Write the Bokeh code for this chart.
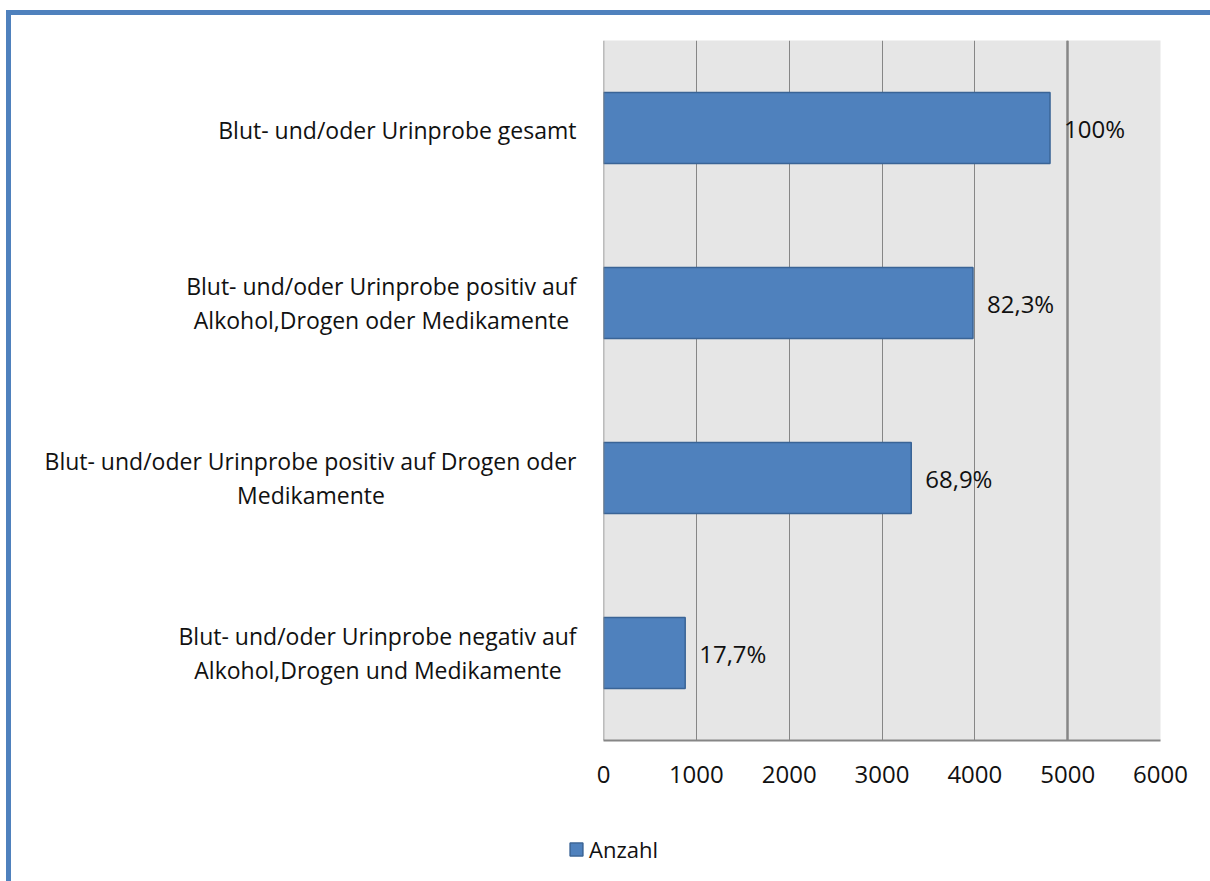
from bokeh.plotting import figure
from bokeh.layouts import column, row
from bokeh.models import (FactorRange, Range1d, ColumnDataSource, Legend, LegendItem,
                          FixedTicker, Grid, Span)
from bokeh.embed import file_html
from bokeh.resources import INLINE
from bokeh.core.properties import value

# ---- data ----
categories = [
    "Blut- und/oder Urinprobe gesamt",
    "Blut- und/oder Urinprobe positiv auf\nAlkohol,Drogen oder Medikamente",
    "Blut- und/oder Urinprobe positiv auf Drogen oder\nMedikamente",
    "Blut- und/oder Urinprobe negativ auf\nAlkohol,Drogen und Medikamente",
]
counts = [4810, 3980, 3315, 880]
percent_labels = ["100%", "82,3%", "68,9%", "17,7%"]
x_ticks = [0, 1000, 2000, 3000, 4000, 5000, 6000]
series_name = "Anzahl"

FONT = "Open Sans"
BLUE = "#4F81BD"
BAR_LINE = "#3A6496"
GRID = "#868686"
TXT = "#111111"

src = ColumnDataSource(dict(cat=categories, count=counts, pct=percent_labels))
yr = FactorRange(factors=categories[::-1], range_padding=0)

# ---------------- main chart ----------------
main = figure(
    width=617, height=785, y_range=yr, x_range=Range1d(x_ticks[0], x_ticks[-1]),
    output_backend="svg", toolbar_location=None, y_axis_location=None,
    min_border_left=10, min_border_right=50, min_border_top=25, min_border_bottom=60,
)
main.background_fill_color = "#E6E6E6"
main.border_fill_color = "white"
main.outline_line_color = None

# left axis line (category names are drawn in the label panel next to it)
main.add_layout(Span(location=x_ticks[0], dimension="height", line_color=GRID, line_width=1.5))

main.ygrid.grid_line_color = None
main.xgrid.ticker = FixedTicker(ticks=x_ticks)
main.xgrid.grid_line_color = GRID
main.xgrid.grid_line_width = 1
main.add_layout(Grid(dimension=0, ticker=FixedTicker(ticks=[5000]),
                     grid_line_color=GRID, grid_line_width=2.5))

r = main.hbar(y="cat", right="count", left=0, height=0.405, source=src,
              fill_color=BLUE, line_color=BAR_LINE, line_width=1.5)
main.text(x="count", y="cat", text="pct", source=src, x_offset=14,
          text_baseline="middle", text_align="left",
          text_font=value(FONT), text_font_size="24px", text_color=TXT)

main.xaxis.ticker = FixedTicker(ticks=x_ticks)
main.xaxis.major_tick_line_color = None
main.xaxis.minor_tick_line_color = None
main.xaxis.major_tick_out = 0
main.xaxis.axis_line_color = GRID
main.xaxis.axis_line_width = 2
main.xaxis.major_label_standoff = 25
main.xaxis.major_label_text_font = FONT
main.xaxis.major_label_text_font_size = "24px"
main.xaxis.major_label_text_color = TXT

# ---------------- category labels (shares the factor range) ----------------
first_line = [c.split("\n")[0] for c in categories]
second_line = [c.split("\n")[1] if "\n" in c else "" for c in categories]
first_line_px = [358, 390, 531, 397]          # rendered width of the first line
src_l1 = ColumnDataSource(dict(cat=categories, txt=first_line,
                               dy=[2 if s == "" else -17 for s in second_line]))
src_l2 = ColumnDataSource(dict(cat=[c for c, s in zip(categories, second_line) if s],
                               txt=[s for s in second_line if s],
                               dx=[-17 - w / 2 for w, s in zip(first_line_px, second_line) if s]))

lab = figure(width=582, height=785, y_range=yr, x_range=Range1d(0, 1),
             output_backend="svg", toolbar_location=None,
             x_axis_location=None, y_axis_location=None,
             min_border_left=0, min_border_right=0, min_border_top=25, min_border_bottom=60)
lab.outline_line_color = None
lab.grid.visible = False
lab.text(x=1, y="cat", text="txt", source=src_l1, x_offset=-17, y_offset="dy",
         text_align="right", text_baseline="middle",
         text_font=value(FONT), text_font_size="23px", text_color=TXT)
lab.text(x=1, y="cat", text="txt", source=src_l2, x_offset="dx", y_offset=17,
         text_align="center", text_baseline="middle",
         text_font=value(FONT), text_font_size="23px", text_color=TXT)

# ---------------- legend strip ----------------
leg_fig = figure(width=1199, height=81, y_range=FactorRange(factors=categories[::-1]),
                 x_range=Range1d(x_ticks[0], x_ticks[-1]), output_backend="svg",
                 toolbar_location=None, x_axis_location=None, y_axis_location=None,
                 min_border_left=0, min_border_right=0, min_border_top=0, min_border_bottom=0)
leg_fig.outline_line_color = None
leg_fig.grid.visible = False
r_leg = leg_fig.hbar(y="cat", right="count", left=0, height=0.405, source=src,
                     fill_color=BLUE, line_color=BAR_LINE, line_width=1.5, visible=False)
leg = Legend(items=[LegendItem(label=series_name, renderers=[r_leg])],
             location=(557, 17), orientation="horizontal",
             glyph_width=16, glyph_height=16, label_height=16, label_standoff=5,
             label_text_font=FONT, label_text_font_size="22px", label_text_color=TXT,
             label_text_baseline="middle",
             padding=0, margin=0, border_line_color=None, background_fill_alpha=0)
leg_fig.add_layout(leg, "center")

layout = column(row(lab, main, spacing=0), leg_fig, spacing=0)
layout.styles = {"border-top": f"5px solid {BLUE}", "border-left": f"5px solid {BLUE}",
                 "margin-left": "6px", "margin-top": "10px"}

open("out.html", "w").write(file_html(layout, INLINE))
